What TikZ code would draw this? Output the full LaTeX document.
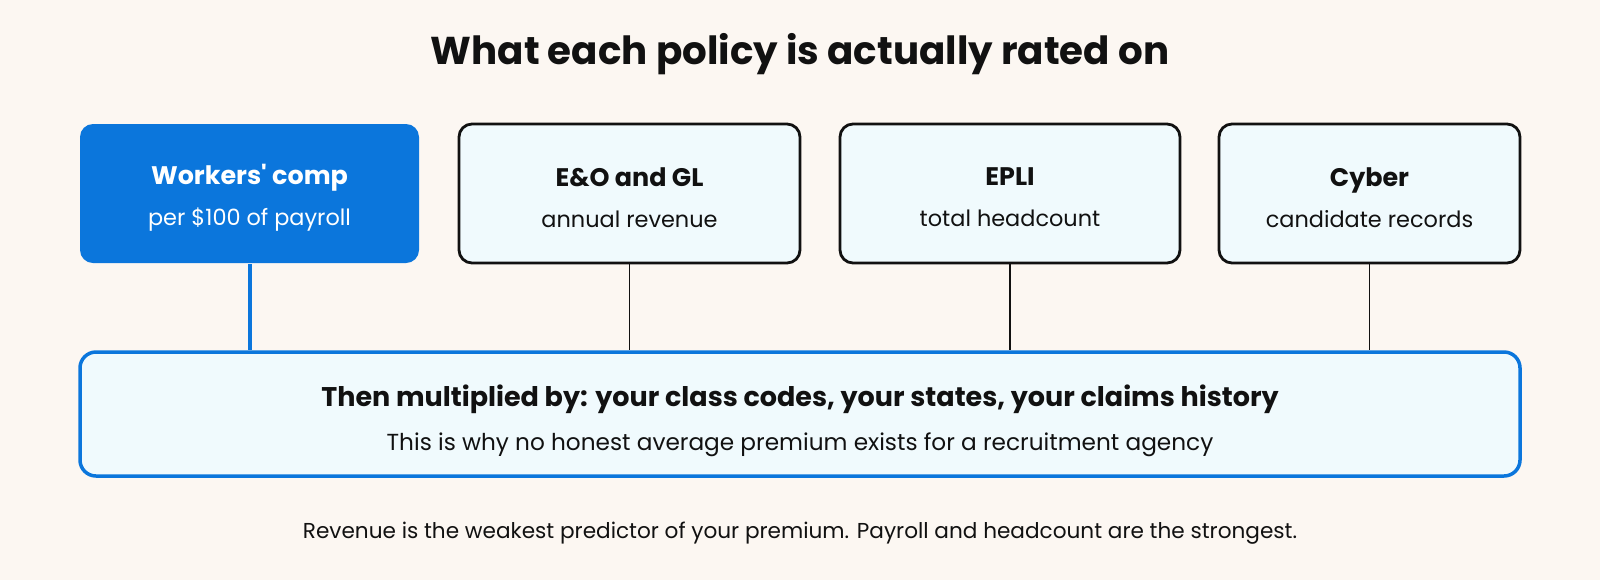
\documentclass[tikz,border=0pt]{standalone}
\usepackage{fontspec}
\setmainfont{Poppins}
\usetikzlibrary{positioning}
\definecolor{bgcream}{HTML}{FCF7F2}
\definecolor{rateblue}{HTML}{0B76DC}
\definecolor{paleblue}{HTML}{F0FAFD}
\definecolor{inkblack}{HTML}{111111}
\def\boxheight{69.5pt}

\begin{document}
\begin{tikzpicture}[x=0.5pt,y=-0.5pt,text=inkblack]
      \tikzstyle{policy}=[rectangle,rounded corners=6.5pt,draw=inkblack,line width=1.4pt,fill=paleblue,minimum height=\boxheight,inner sep=0pt]
      \tikzstyle{main policy}=[policy,draw=none,fill=rateblue]
      \tikzstyle{multiplier}=[policy,draw=rateblue,line width=1.75pt,rounded corners=8pt,minimum width=720pt,minimum height=62pt]
      \tikzstyle{rate}=[align=center,inner sep=0pt,font=\fontsize{12.7}{20.5}\selectfont]
      \tikzstyle{link}=[draw=inkblack,line width=0.75pt]
      \def\sub{\fontsize{11.2}{20.5}\selectfont}

      % Background and heading
      \fill[bgcream] (0,0) rectangle (1600,580);
      \node[font=\fontsize{19.4}{24}\selectfont\bfseries] (title) at (800,54) {What each policy is actually rated on};

      % Draw the policy boxes
      \node[main policy,minimum width=169.5pt] (P-1) at (249.5,193.5) {};
      \node[rate,text=white] (T-1) at (249.5,197.5)
          {\bfseries Workers\textquotesingle{} comp\\{\sub per \$100 of payroll}};
      \foreach \name / \x / \w / \head / \basis in {2/629.5/170.5/E\&O and GL/annual revenue,
                                                  3/1010/170/EPLI/total headcount,
                                                  4/1369.5/150.5/Cyber/candidate records}
      {
          \node[policy,minimum width=\w pt] (P-\name) at (\x,193.5) {};
          \node[rate] (T-\name) at (\x,197.5) {\bfseries \head\\{\sub \basis}};
      }

      % Draw the multiplier box
      \node[multiplier] (M) at (800,414) {};
      \node[rate,font=\fontsize{13.5}{22}\selectfont] (M-text) at (800,421)
          {\bfseries Then multiplied by: your class codes, your states, your claims history\\
           {\fontsize{11.6}{22}\selectfont This is why no honest average premium exists for a recruitment agency}};

      % Connect every policy box with the multiplier box
      \draw[link,draw=rateblue,line width=2pt] (P-1) -- (P-1 |- M.north);
      \foreach \source in {2,...,4}
          \draw[link] (P-\source) -- (P-\source |- M.north);

      % Annotate the bottom
      \node[font=\fontsize{10.8}{14}\selectfont] (note) at (800,533)
          {Revenue is the weakest predictor of your premium. Payroll and headcount are the strongest.};
  \end{tikzpicture}
\end{document}
